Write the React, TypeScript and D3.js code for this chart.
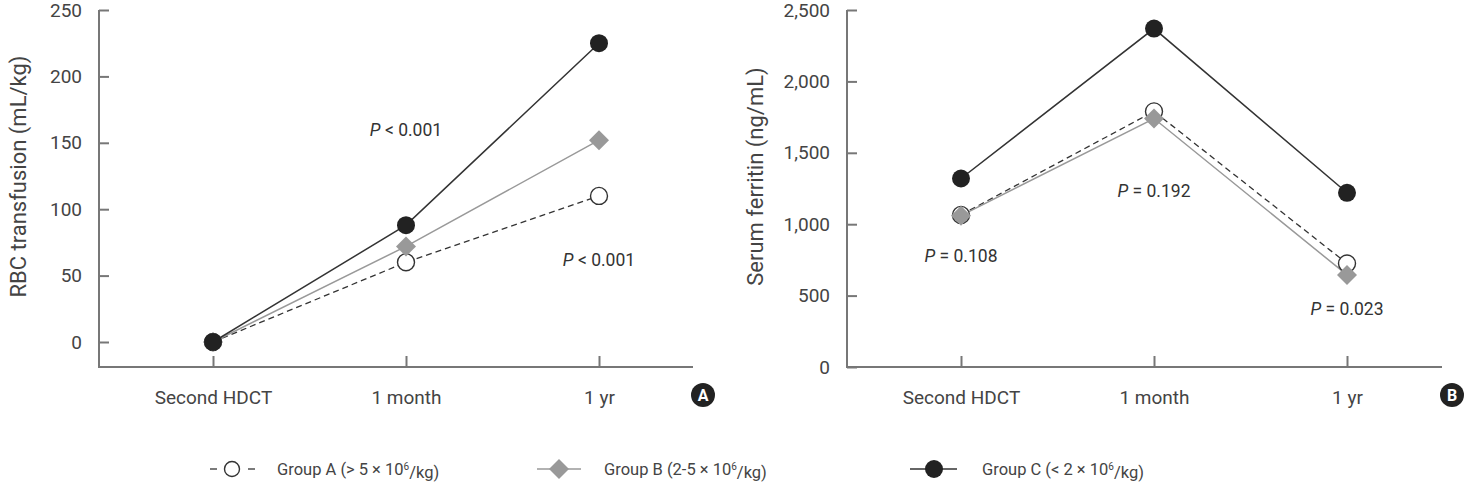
import { useEffect, useRef } from "react";
import * as d3 from "d3";

// time points on the x axis
const timePoints = ["Second HDCT", "1 month", "1 yr"];

// panel A: RBC transfusion (mL/kg)
const rbcGroupA = [0, 60, 110];
const rbcGroupB = [0, 72, 152];
const rbcGroupC = [0, 88, 225];
const rbcTicks = [0, 50, 100, 150, 200, 250];

// panel B: serum ferritin (ng/mL)
const ferritinGroupA = [1065, 1790, 725];
const ferritinGroupB = [1060, 1740, 645];
const ferritinGroupC = [1320, 2370, 1220];
const ferritinTicks = [0, 500, 1000, 1500, 2000, 2500];

const groupNames = ["Group A", "Group B", "Group C"];
const groupRanges = ["> 5", "2-5", "< 2"];

const FONT = "Roboto, 'Liberation Sans', sans-serif";
const TEXT = "#444";
const AXIS = "#777";

type Panel = {
  series: number[][];
  ticks: number[];
  yTitle: string;
  axisX: number;
  axisRight: number;
  xRange: [number, number];
  yRange: [number, number];
  yDomainMax: number;
  badge: string;
  titleX: number;
  pLabels: { value: string; col: number; v: number }[];
};

const App = () => {
  const ref = useRef<SVGSVGElement>(null);

  useEffect(() => {
    draw();
  }, []);

  const draw = () => {
    const width = 1469;
    const height = 490;
    const axisBottom = 367;

    const svg = d3.select(ref.current).attr("width", width).attr("height", height);
    svg.selectAll("*").remove();

    const panels: Panel[] = [
      {
        series: [rbcGroupA, rbcGroupB, rbcGroupC],
        ticks: rbcTicks,
        yTitle: "RBC transfusion (mL/kg)",
        axisX: 99,
        axisRight: 693,
        xRange: [213, 599],
        yRange: [342, 10],
        yDomainMax: 250,
        badge: "A",
        titleX: 18,
        pLabels: [
          { value: " < 0.001", col: 1, v: 160 },
          { value: " < 0.001", col: 2, v: 62 },
        ],
      },
      {
        series: [ferritinGroupA, ferritinGroupB, ferritinGroupC],
        ticks: ferritinTicks,
        yTitle: "Serum ferritin (ng/mL)",
        axisX: 847,
        axisRight: 1442,
        xRange: [961, 1347],
        yRange: [367, 10],
        yDomainMax: 2500,
        badge: "B",
        titleX: 755,
        pLabels: [
          { value: " = 0.108", col: 0, v: 780 },
          { value: " = 0.192", col: 1, v: 1230 },
          { value: " = 0.023", col: 2, v: 405 },
        ],
      },
    ];

    panels.forEach((p) => {
      const x = d3.scalePoint<string>().domain(timePoints).range(p.xRange);
      const y = d3.scaleLinear().domain([0, p.yDomainMax]).range(p.yRange);
      const g = svg.append("g");

      // axis lines
      g.append("line")
        .attr("x1", p.axisX).attr("x2", p.axisX)
        .attr("y1", p.yRange[1]).attr("y2", axisBottom)
        .attr("stroke", AXIS).attr("stroke-width", 2);
      g.append("line")
        .attr("x1", p.axisX - 1).attr("x2", p.axisRight)
        .attr("y1", axisBottom).attr("y2", axisBottom)
        .attr("stroke", AXIS).attr("stroke-width", 2);

      // y ticks point inward
      const yAxis = g.append("g")
        .attr("transform", `translate(${p.axisX},0)`)
        .call(d3.axisLeft(y).tickValues(p.ticks).tickFormat((d) => d3.format(",")(d as number)).tickSize(-10).tickPadding(17));
      yAxis.select(".domain").remove();
      yAxis.selectAll("line").attr("stroke", AXIS).attr("stroke-width", 2);
      yAxis.selectAll("text").attr("fill", TEXT).style("font-family", FONT).style("font-size", "19px");

      // x ticks point up
      const xAxis = g.append("g")
        .attr("transform", `translate(0,${axisBottom})`)
        .call(d3.axisBottom(x).tickSize(-11).tickPadding(24));
      xAxis.select(".domain").remove();
      xAxis.selectAll("line").attr("stroke", AXIS).attr("stroke-width", 2);
      xAxis.selectAll("text").attr("fill", TEXT).style("font-family", FONT).style("font-size", "19px");

      // y title
      g.append("text")
        .attr("transform", `translate(${p.titleX},${(p.yRange[1] + axisBottom) / 2 - 12}) rotate(-90)`)
        .attr("text-anchor", "middle")
        .attr("dy", "0.35em")
        .attr("fill", TEXT)
        .style("font-family", FONT)
        .style("font-size", "22px")
        .text(p.yTitle);

      const line = d3.line<number>()
        .x((_, i) => x(timePoints[i])!)
        .y((d) => y(d));

      // group A dashed, open circles
      g.append("path").datum(p.series[0]).attr("d", line)
        .attr("fill", "none").attr("stroke", "#333").attr("stroke-width", 1.3).attr("stroke-dasharray", "6,4");
      // group B grey, diamonds
      g.append("path").datum(p.series[1]).attr("d", line)
        .attr("fill", "none").attr("stroke", "#999").attr("stroke-width", 1.5);
      // group C black, filled circles
      g.append("path").datum(p.series[2]).attr("d", line)
        .attr("fill", "none").attr("stroke", "#333").attr("stroke-width", 1.5);

      g.selectAll(".ptA").data(p.series[0]).join("circle")
        .attr("cx", (_, i) => x(timePoints[i])!).attr("cy", (d) => y(d)).attr("r", 8.5)
        .attr("fill", "#fff").attr("stroke", "#333").attr("stroke-width", 1.4);
      g.selectAll(".ptB").data(p.series[1]).join("path")
        .attr("transform", (d, i) => `translate(${x(timePoints[i])},${y(d)}) rotate(45)`)
        .attr("d", d3.symbol(d3.symbolSquare, 200)())
        .attr("fill", "#999");
      g.selectAll(".ptC").data(p.series[2]).join("circle")
        .attr("cx", (_, i) => x(timePoints[i])!).attr("cy", (d) => y(d)).attr("r", 9)
        .attr("fill", "#222");

      // p-value labels
      p.pLabels.forEach((l) => {
        const t = g.append("text")
          .attr("x", x(timePoints[l.col])!)
          .attr("y", y(l.v))
          .attr("text-anchor", "middle")
          .attr("dy", "0.35em")
          .attr("fill", "#333")
          .style("font-family", FONT)
          .style("font-size", "17.5px");
        t.append("tspan").attr("font-style", "italic").text("P");
        t.append("tspan").text(l.value);
      });

      // panel badge
      const bx = p.axisRight + 10;
      g.append("circle").attr("cx", bx).attr("cy", 395).attr("r", 12).attr("fill", "#222");
      g.append("text").attr("x", bx).attr("y", 395).attr("dy", "0.36em")
        .attr("text-anchor", "middle").attr("fill", "#fff")
        .style("font-family", FONT).style("font-weight", "bold").style("font-size", "16px")
        .text(p.badge);
    });

    // legend
    const legendY = 469;
    const legendX = [210, 537, 910];
    const leg = svg.append("g");
    groupNames.forEach((name, i) => {
      const lx = legendX[i];
      const cx = lx + 22;
      if (i === 0) {
        leg.append("line").attr("x1", lx).attr("x2", lx + 7).attr("y1", legendY).attr("y2", legendY).attr("stroke", "#333").attr("stroke-width", 1.3);
        leg.append("line").attr("x1", lx + 38).attr("x2", lx + 45).attr("y1", legendY).attr("y2", legendY).attr("stroke", "#333").attr("stroke-width", 1.3);
        leg.append("circle").attr("cx", cx).attr("cy", legendY).attr("r", 7.5).attr("fill", "#fff").attr("stroke", "#333").attr("stroke-width", 1.4);
      } else if (i === 1) {
        leg.append("line").attr("x1", lx).attr("x2", lx + 44).attr("y1", legendY).attr("y2", legendY).attr("stroke", "#999").attr("stroke-width", 1.5);
        leg.append("path").attr("transform", `translate(${cx},${legendY}) rotate(45)`)
          .attr("d", d3.symbol(d3.symbolSquare, 200)()).attr("fill", "#999");
      } else {
        leg.append("line").attr("x1", lx).attr("x2", lx + 47).attr("y1", legendY).attr("y2", legendY).attr("stroke", "#333").attr("stroke-width", 1.5);
        leg.append("circle").attr("cx", cx + 2).attr("cy", legendY).attr("r", 9).attr("fill", "#222");
      }
      const t = leg.append("text")
        .attr("x", lx + (i === 2 ? 72 : 67))
        .attr("y", legendY).attr("dy", "0.35em")
        .attr("fill", TEXT)
        .style("font-family", FONT)
        .style("font-size", "16.5px");
      t.append("tspan").text(`${name} (${groupRanges[i]} \u00d7 10`);
      t.append("tspan").attr("dy", "-0.45em").style("font-size", "10px").text("6");
      t.append("tspan").attr("dy", "0.45em").text("/kg)");
    });
  };

  return (
    <div>
      <svg ref={ref} style={{ position: "absolute", left: 0, top: 0, background: "#fff" }}></svg>
    </div>
  );
};

export default App;
